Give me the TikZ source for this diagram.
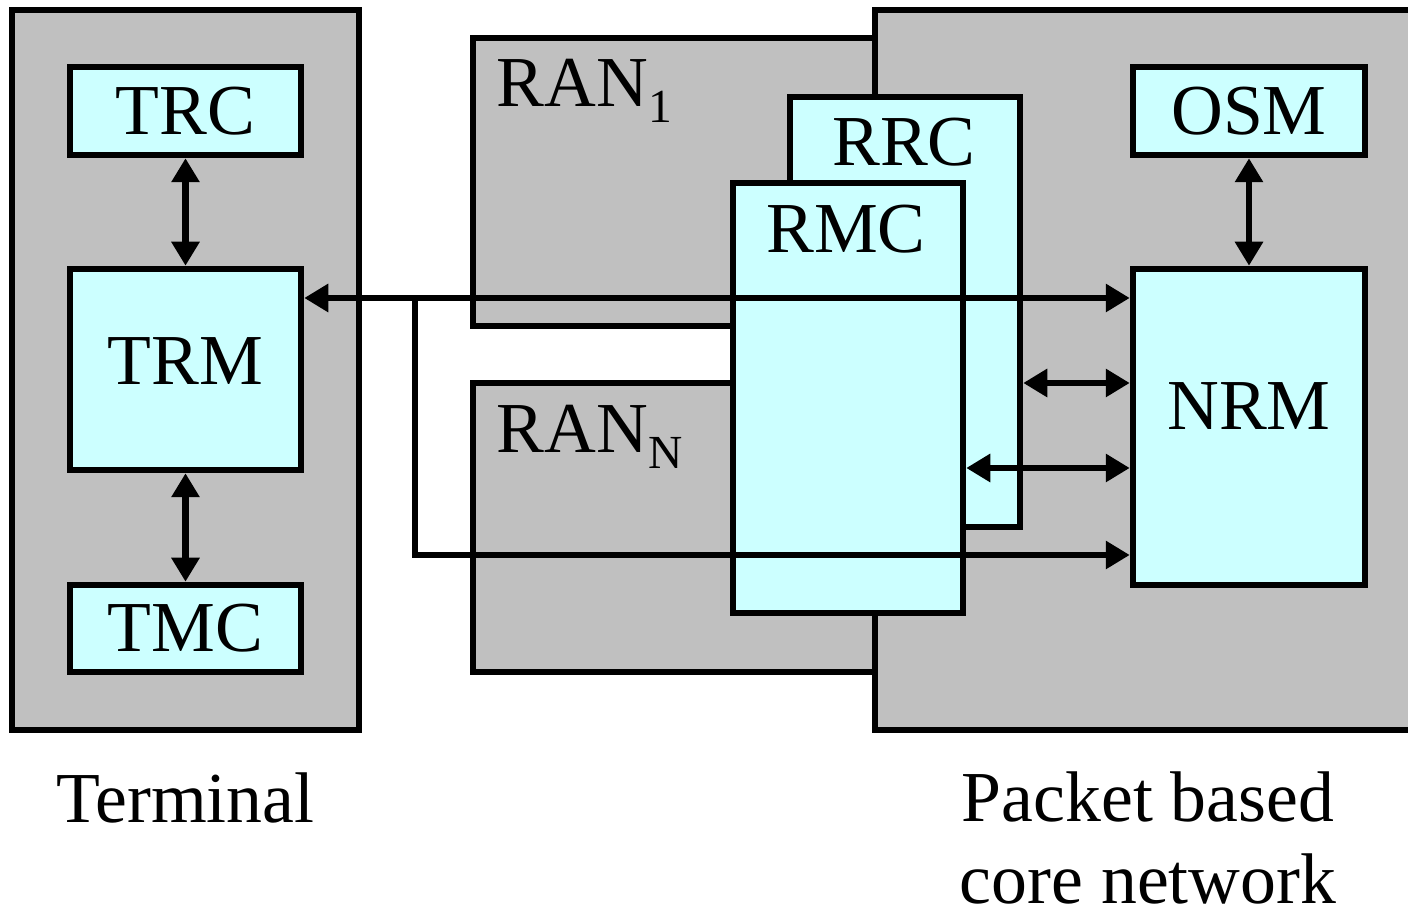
\documentclass[tikz,border=0pt]{standalone}
\usepackage{fontspec}
\setmainfont{Liberation Serif}
\usetikzlibrary{arrows.meta,positioning}
\definecolor{shade}{HTML}{C0C0C0}
\definecolor{lightcyan}{HTML}{CCFFFF}
\newcommand{\diagfont}{\fontsize{20.4}{24}\selectfont}
\newcommand{\lowsub}[1]{\raisebox{-0.22em}{\fontsize{13.5}{15}\selectfont #1}}

\begin{document}
\begin{tikzpicture}[
  area/.style={fill=shade, draw=black, line width=0.65mm, inner sep=0pt},
  unit/.style={fill=lightcyan, draw=black, line width=0.65mm, inner sep=0pt,
               font=\diagfont},
  lbl/.style={font=\diagfont, inner sep=0pt},
  link/.style={{Triangle[length=2.4mm,width=2.7mm]}-{Triangle[length=2.4mm,width=2.7mm]},
               line width=0.65mm},
  feed/.style={-{Triangle[length=2.4mm,width=2.7mm]}, line width=0.65mm}
]
  \useasboundingbox (0,0) rectangle (14.08,-9.13);

  % terminal side
  \node[area, minimum width=3.47cm, minimum height=7.20cm] (terminal) at (1.855,-3.70) {};
  \node[unit, minimum width=2.31cm, minimum height=0.88cm] (trc) at (1.855,-1.11) {TRC};
  \node[unit, minimum width=2.31cm, minimum height=2.01cm] (trm) at (1.855,-3.695) {};
  \node[unit, minimum width=2.31cm, minimum height=0.87cm] (tmc) at (1.855,-6.285) {TMC};
  \node[lbl, anchor=base] (trmtxt) at (1.855,-3.85) {TRM};
  \node[lbl, anchor=base] (termtxt) at (1.855,-8.23) {Terminal};

  % radio access networks
  \node[area, minimum width=4.02cm, minimum height=2.88cm] (ranone) at (6.74,-1.82) {};
  \node[area, minimum width=4.02cm, minimum height=2.89cm] (rann) at (6.74,-5.275) {};
  \node[lbl, anchor=base west] (ranonetxt) at (4.96,-1.07) {RAN\lowsub{1}};
  \node[lbl, anchor=base west] (ranntxt) at (4.96,-4.53) {RAN\lowsub{N}};

  % core network
  \node[area, minimum width=5.45cm, minimum height=7.20cm] (core) at (11.475,-3.70) {};
  \node[unit, minimum width=2.30cm, minimum height=4.30cm] (rrc) at (9.05,-3.12) {};
  \node[unit, minimum width=2.30cm, minimum height=4.30cm] (rmc) at (8.48,-3.98) {};
  \node[lbl, anchor=base] (rrctxt) at (9.04,-1.66) {RRC};
  \node[lbl, anchor=base] (rmctxt) at (8.46,-2.53) {RMC};
  \node[unit, minimum width=2.32cm, minimum height=0.88cm] (osm) at (12.49,-1.11) {OSM};
  \node[unit, minimum width=2.32cm, minimum height=3.16cm] (nrm) at (12.49,-4.27) {};
  \node[lbl, anchor=base] (nrmtxt) at (12.49,-4.30) {NRM};
  \node[lbl, anchor=base] (coretxt) at (11.48,-8.22) {Packet based};
  \node[lbl, anchor=base] (coretxttwo) at (11.48,-9.04) {core network};

  % connectors
  \draw[link] (trc) -- (trm);
  \draw[link] (trm) -- (tmc);
  \draw[link] (osm) -- (nrm);
  \coordinate (tap) at (4.15,-2.98);
  \coordinate (tapdown) at (4.15,-5.55);
  \draw[link] (trm.east |- tap) -- (nrm.west |- tap);
  \draw[feed] (tap) -- (tapdown) -- (nrm.west |- tapdown);
  \draw[link] (rrc.east |- 0,-3.83) -- (nrm.west |- 0,-3.83);
  \draw[link] (rmc.east |- 0,-4.68) -- (nrm.west |- 0,-4.68);
\end{tikzpicture}
\end{document}
